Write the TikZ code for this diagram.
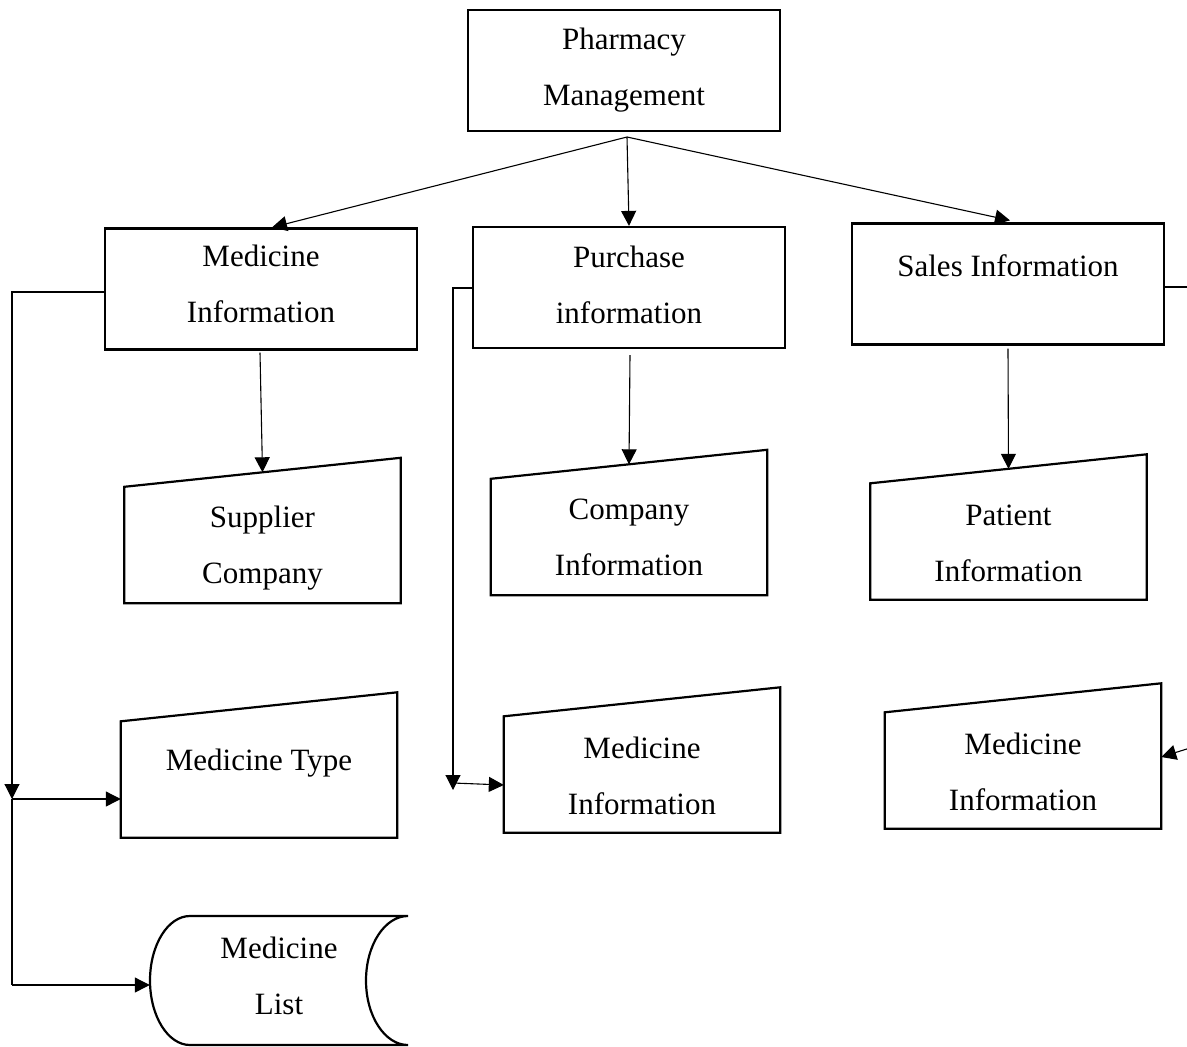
\documentclass[tikz,border=0pt]{standalone}
\usepackage{fontspec}
\setmainfont{Liberation Serif}
\usetikzlibrary{arrows.meta,calc}

\begin{document}
\begin{tikzpicture}[x=1pt,y=1pt,
  txt/.style={align=center,inner sep=0pt,font=\fontsize{31}{56}\selectfont},
  box/.style={txt,draw,line width=2.2pt,minimum width=312pt,minimum height=121pt},
  slant/.style={txt,minimum width=276pt,minimum height=116pt},
  slantline/.style={line width=2.2pt,line join=miter},
  link/.style={line width=1.1pt},
  arr/.style={link,-{Triangle[length=15pt,width=15pt]}}]

\useasboundingbox (0,0) rectangle (1187,-1047);

% ----- top level -----
\node[box] (pm) at (624,-70.5) {Pharmacy\\Management};

% ----- second level -----
\node[box] (mi) at (261,-289) {};
\node[txt] (miT) at (261,-284) {Medicine\\Information};
\node[box] (pu) at (629,-287.5) {};
\node[txt] (puT) at (629,-285) {Purchase\\information};
\node[box] (sa) at (1008,-284) {};
\node[txt] (saT) at (1008,-266) {Sales Information};

% ----- manual input shapes (sloped top) -----
\node[slant] (sup) at (262.5,-545) {};
\node[txt]   (supT) at (262.5,-548.5) {Supplier\\Company};
\node[slant] (com) at (629,-537) {Company\\Information};
\node[slant] (pat) at (1008.5,-541.5) {};
\node[txt]   (patT) at (1008.5,-543) {Patient\\Information};
\node[slant] (mt)  at (259,-779.5) {};
\node[txt]   (mtT) at (259,-763) {Medicine Type};
\node[slant] (mi2) at (642,-774.5) {};
\node[txt]   (mi2T) at (642,-775.5) {Medicine\\Information};
\node[slant] (mi3) at (1023,-770.5) {};
\node[txt]   (mi3T) at (1023,-771.5) {Medicine\\Information};

\foreach \n in {sup,com,pat,mt,mi2,mi3}{
  \draw[slantline] (\n.north west) -- (\n.south west) -- (\n.south east)
     -- ($(\n.north east)+(0,29)$) -- cycle;
}

% ----- stored data shape -----
\node[txt,minimum width=258pt,minimum height=129pt] (ml) at (279,-975.5) {Medicine\\List};
\draw[slantline]
  (190,-916) -- (408,-916)
  (190,-916) arc[start angle=90,end angle=270,x radius=40,y radius=64.5] -- (408,-1045)
  (408,-916) arc[start angle=90,end angle=270,x radius=42,y radius=64.5];

% ----- connectors from the top box -----
\coordinate (pmO) at (627,-137);
\draw[arr] (pmO) -- ($(mi.north)+(11,0)$);
\draw[arr] (pmO) -- (pu.north);
\draw[arr] (pmO) -- ($(sa.north)+(2,2)$);

% ----- second level to first child -----
\draw[arr] ($(mi.south)+(-1,-2)$) -- ($(sup.north)+(0,14.5)$);
\draw[arr] ($(pu.south)+(1,-6)$) -- ($(com.north)+(0,14.5)$);
\draw[arr] ($(sa.south)+(0,-3)$) -- ($(pat.north)+(0,14.5)$);

% ----- left branch -----
\coordinate (jl) at (12,-799);
\draw[arr] ($(mi.west)+(0,-3)$) -- (12,-292) -- (jl);
\draw[link] (jl) -- (12,-985);
\draw[arr] (12,-985) -- (ml.west |- 0,-985);
\draw[arr] (jl) -- (mt.west |- 0,-799);

% ----- middle branch -----
\coordinate (jm) at (453,-790);
\draw[arr] ($(pu.west)+(0,-0.5)$) -- (453,-288) -- (jm);
\draw[arr] (453,-783) -- (mi2.west |- 0,-785);

% ----- right branch (runs past the right edge) -----
\coordinate (er1) at (1190,-287);
\coordinate (er2) at (1190,-748);
\draw[link] (sa.east |- 0,-287) -- (er1);
\draw[arr] (er2) -- (mi3.east |- 0,-757);

\end{tikzpicture}
\end{document}
